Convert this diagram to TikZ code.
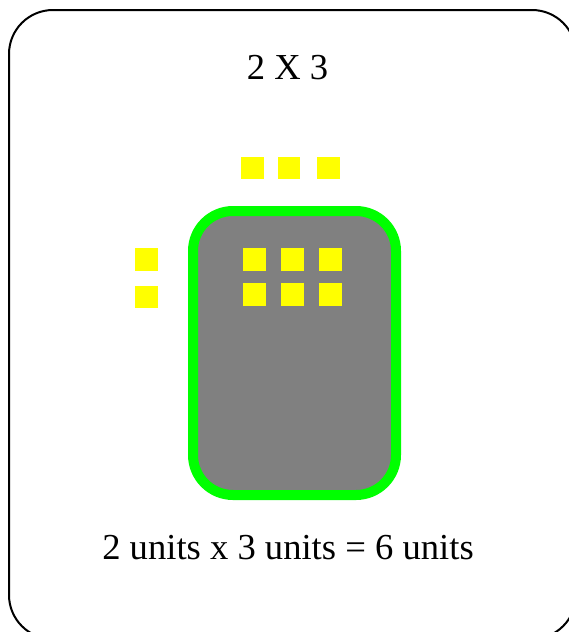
\documentclass[tikz,border=0pt]{standalone}
\usepackage{fontspec}
\setmainfont{Liberation Serif}
\definecolor{brightgreen}{HTML}{00FF00}
\definecolor{midgray}{HTML}{808080}
\definecolor{sqyellow}{HTML}{FFFF00}
\begin{document}
\begin{tikzpicture}[x=1pt,y=-1pt,
  frame/.style={draw=black,line width=2pt,rounded corners=44pt},
  unitsq/.style={fill=sqyellow,draw=none,minimum size=22.5pt,inner sep=0pt,outer sep=0pt},
  label/.style={font=\fontsize{36.6}{40}\selectfont,anchor=base,inner sep=0pt},
  region/.style={draw=brightgreen,fill=midgray,line width=10pt,rounded corners=40pt}]
\useasboundingbox (0,0) rectangle (569,632);
\clip (0,0) rectangle (569,632);
\draw[frame] (9,10) rectangle (576,639);
\node[label] (title) at (287.5,79) {2 X 3};
\draw[region] (193,211) rectangle (396,495);
\node[unitsq] (t1) at (252.5,168) {};
\node[unitsq] (t2) at (289,168) {};
\node[unitsq] (t3) at (328.5,168) {};
\node[unitsq] (l1) at (146.5,259.5) {};
\node[unitsq] (l2) at (146.5,297) {};
\node[unitsq] (a1) at (254.5,259.5) {};
\node[unitsq] (a2) at (292.5,259.5) {};
\node[unitsq] (a3) at (330.5,259.5) {};
\node[unitsq] (b1) at (254.5,294.5) {};
\node[unitsq] (b2) at (292.5,294.5) {};
\node[unitsq] (b3) at (330.5,294.5) {};
\node[label] (eq) at (288,559) {2 units x 3 units = 6 units};
\end{tikzpicture}
\end{document}
